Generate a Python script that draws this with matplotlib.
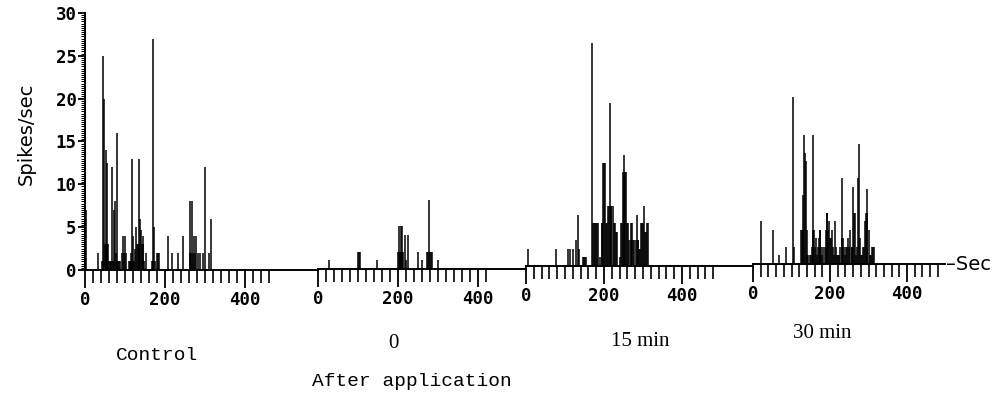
import matplotlib
matplotlib.use('Agg')
import matplotlib.pyplot as plt
from matplotlib.ticker import FixedLocator, MultipleLocator

# histogram bins: time (sec) and rate (spikes/sec)
control_t = [2, 32, 42, 44, 46, 48, 50, 52, 53, 55, 56, 58, 60, 62, 64, 66, 68, 70,
             72, 73, 75, 77, 79, 81, 83, 86, 88, 92, 96, 98, 100, 102, 110, 112,
             114, 116, 118, 120, 121, 123, 125, 128, 130, 132, 134, 136, 138, 140,
             142, 144, 146, 148, 152, 168, 170, 171, 173, 175, 180, 183, 185, 208,
             218, 232, 246, 262, 263, 265, 267, 269, 273, 275, 277, 283, 288, 294,
             301, 310, 314]
control_h = [7, 2, 1, 1, 25, 20, 3, 3, 14, 3, 12.5, 3, 1, 1, 1, 1, 12, 1,
             7, 1, 8, 2, 16, 1, 1, 1, 1, 2, 4, 2, 4, 2, 1, 1,
             1, 2, 13, 1, 4, 1, 2.5, 5, 3, 3, 13, 3, 6, 4.7,
             3, 3, 4, 1, 2, 1, 1, 27, 5, 1, 2, 2, 2, 4,
             2, 2, 4, 2, 8, 2, 8, 2, 4, 2, 4, 2, 2, 2,
             12, 2, 6]

after0_t = [27, 100, 103, 105, 148, 200, 202, 204, 206, 207, 209, 211, 213, 217,
            220, 226, 251, 259, 272, 274, 277, 279, 282, 284, 300]
after0_h = [1, 2, 2, 2, 1, 2, 5, 2, 2, 5, 2, 5, 2, 4,
            1, 4, 2, 1, 2, 2, 8, 2, 2, 2, 1]

after15_t = [6, 76, 107, 113, 120, 127, 134, 136, 145, 148, 151, 154, 168, 171,
             174, 176, 179, 182, 185, 190, 194, 196, 198, 201, 203, 205, 208, 210,
             213, 215, 217, 219, 222, 225, 228, 231, 233, 241, 244, 246, 248, 250,
             252, 254, 256, 259, 262, 265, 268, 270, 273, 275, 278, 281, 284, 286,
             288, 290, 292, 295, 298, 300, 303, 305, 308, 310, 312]
after15_h = [2, 2, 2, 2, 2, 3, 6, 2, 1, 1, 1, 1, 26, 5,
             5, 5, 5, 5, 5, 1, 5, 5, 12, 12, 12, 5, 5, 7,
             7, 19, 7, 7, 7, 5, 5, 4, 4, 1, 5, 5, 11, 11,
             13, 11, 11, 5, 5, 3, 3, 5, 5, 3, 3, 3, 6, 3,
             3, 2, 2, 5, 5, 5, 7, 4, 4, 5, 5]

after30_t = [21, 53, 68, 87, 103, 107, 125, 127, 129, 131, 133, 135, 137, 139, 141,
             144, 147, 150, 153, 155, 157, 159, 161, 163, 166, 169, 171, 173, 175,
             177, 180, 182, 186, 189, 191, 193, 195, 198, 200, 202, 204, 207, 210,
             213, 216, 219, 221, 224, 227, 230, 232, 234, 236, 239, 241, 244, 247,
             250, 253, 256, 258, 260, 262, 265, 267, 270, 273, 275, 277, 280, 282,
             285, 288, 291, 293, 295, 297, 300, 303, 306, 308, 311, 313]
after30_h = [5, 4, 1, 2, 19.5, 2, 4, 4, 4, 8, 15, 13, 12, 4, 1,
             1, 1, 1, 2, 4, 15, 4, 2, 3, 1, 2, 3, 4, 4,
             2, 1, 2, 2, 4, 6, 6, 4, 5, 3, 3, 4, 2, 1,
             5, 2, 1, 1, 1, 2, 3, 10, 3, 2, 1, 2, 2, 3,
             2, 4, 2, 2, 9, 6, 6, 1, 2, 10, 14, 3, 1, 1,
             2, 2, 5, 6, 8.7, 6, 4, 1, 1, 2, 2, 2]

panel_labels = ['Control', '0', '15 min', '30 min']
x_major = [0, 200, 400]
y_major = [0, 5, 10, 15, 20, 25, 30]

W, H = 1000, 397
PX_PER_UNIT = 8.57   # vertical scale, pixels per spike/sec

# where each panel sits on the page (pixels): origin, px per sec, right end,
# baseline, last minor tick
layout = [
    (85, 0.40, 318, 270, 460),
    (318, 0.40, 526, 269, 420),
    (526, 0.39, 753, 266, 480),
    (753, 0.385, 945, 264, 480),
]

tick_font = dict(family='DejaVu Sans Mono', weight='bold', size=12.5)

fig = plt.figure(figsize=(W / 100, H / 100), dpi=100)

series = [(control_t, control_h), (after0_t, after0_h),
          (after15_t, after15_h), (after30_t, after30_h)]

for i, ((t, h), (origin, scale, right, base, last_tick)) in enumerate(zip(series, layout)):
    xmax = (right - origin) / scale
    height_px = 30 * PX_PER_UNIT
    ax = fig.add_axes([origin / W, (H - base) / H, (right - origin) / W, height_px / H])
    ax.set_facecolor('none')
    ax.vlines(t, 0, h, colors='black', linewidth=1.1)
    ax.set_xlim(0, xmax)
    ax.set_ylim(0, 30)

    for side in ['top', 'right']:
        ax.spines[side].set_visible(False)
    ax.spines['bottom'].set_linewidth(1.4)

    ax.xaxis.set_major_locator(FixedLocator(x_major))
    ax.xaxis.set_minor_locator(FixedLocator([m for m in range(20, last_tick + 1, 20)
                                             if m not in x_major]))
    ax.set_xticklabels([str(v) for v in x_major], fontdict=tick_font)
    ax.tick_params(axis='x', which='major', direction='out', length=13, width=1.3, pad=2)
    ax.tick_params(axis='x', which='minor', direction='out', length=9, width=1.2)

    if i == 0:
        ax.spines['left'].set_linewidth(1.5)
        ax.yaxis.set_major_locator(FixedLocator(y_major))
        ax.yaxis.set_minor_locator(MultipleLocator(0.25))
        ax.set_yticklabels([str(v) for v in y_major], fontdict=tick_font)
        ax.tick_params(axis='y', which='major', direction='out', length=5, width=1.3, pad=1)
        ax.tick_params(axis='y', which='minor', direction='out', length=3, width=0.7)
        ax.set_ylabel('Spikes/sec', fontsize=14)
        ax.yaxis.set_label_coords(-0.21, 0.53)
    else:
        ax.spines['left'].set_visible(False)
        ax.set_yticks([])

# axis unit at the end of the baseline
fig.text(946 / W, (H - 264) / H, '\u2013Sec', fontsize=14, va='center', ha='left')

# condition labels under the panels
fig.text(157 / W, (H - 355) / H, panel_labels[0], family='Liberation Mono',
         fontsize=14, ha='center', va='center')
fig.text(393 / W, (H - 343) / H, panel_labels[1], family='Liberation Serif',
         fontsize=15, ha='center', va='center')
fig.text(640 / W, (H - 341) / H, panel_labels[2], family='Liberation Serif',
         fontsize=15, ha='center', va='center')
fig.text(822 / W, (H - 334) / H, panel_labels[3], family='Liberation Serif',
         fontsize=15, ha='center', va='center')
fig.text(412 / W, (H - 381) / H, 'After application', family='Liberation Mono',
         fontsize=14, ha='center', va='center')

fig.savefig('out.png', dpi=100)
